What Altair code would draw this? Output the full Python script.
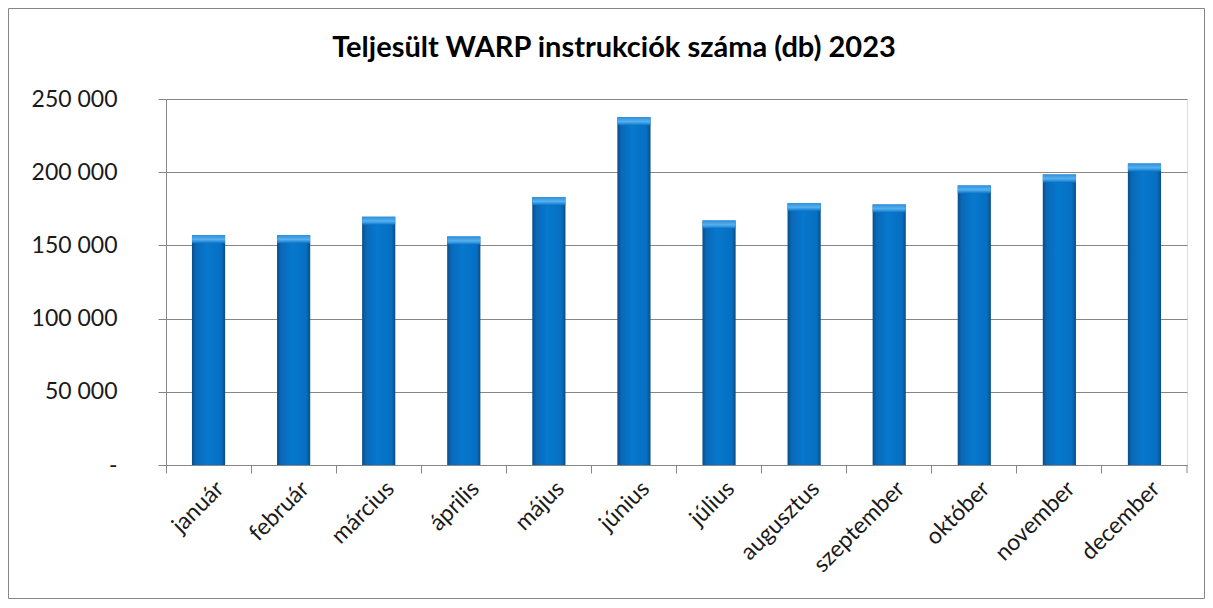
import altair as alt
import pandas as pd

months = ["január", "február", "március", "április", "május", "június",
          "július", "augusztus", "szeptember", "október", "november", "december"]
values = [157000, 157000, 169500, 156000, 183000, 237500,
          167000, 179000, 178000, 191000, 198500, 206000]
y_ticks = [0, 50000, 100000, 150000, 200000, 250000]
title_text = "Teljesült WARP instrukciók száma (db) 2023"

df = pd.DataFrame({"month": months, "value": values})
deco = pd.DataFrame({"t": [title_text]})

W, H = 1021, 366
PAD = {"left": 158, "top": 91, "right": 18, "bottom": 134}
GRAY = "#868686"
TXT = "#1a1a1a"

x_enc = alt.X(
    "month:N", sort=months, title=None,
    scale=alt.Scale(paddingInner=0, paddingOuter=0),
    axis=alt.Axis(bandPosition=0, labelOffset=4, labelAngle=-45,
                  labelAlign="right", labelBaseline="top", labelPadding=4,
                  labelFont="Lato", labelFontSize=23, labelColor=TXT,
                  tickSize=8, tickColor=GRAY, domainColor=GRAY, grid=False),
)
y_enc = alt.Y(
    "value:Q", title=None,
    scale=alt.Scale(domain=[0, 250000], nice=False),
    axis=alt.Axis(values=y_ticks,
                  labelExpr="datum.value == 0 ? '-\u00a0\u00a0\u00a0' : replace(format(datum.value, ','), ',', ' ')",
                  labelFont="Lato", labelFontSize=23, labelColor=TXT, labelPadding=41,
                  tickSize=8, tickColor=GRAY, domainColor=GRAY,
                  grid=True, gridColor=GRAY, gridWidth=1),
)

body_grad = alt.LinearGradient(
    gradient="linear", x1=0, y1=0, x2=1, y2=0,
    stops=[alt.GradientStop(offset=0, color="#0b4d86"),
           alt.GradientStop(offset=0.12, color="#0a68b8"),
           alt.GradientStop(offset=0.45, color="#0678cd"),
           alt.GradientStop(offset=0.88, color="#066fc2"),
           alt.GradientStop(offset=1, color="#0b4d86")])
cap_grad = alt.LinearGradient(
    gradient="linear", x1=0, y1=0, x2=0, y2=1,
    stops=[alt.GradientStop(offset=0, color="#2f8fdb"),
           alt.GradientStop(offset=0.55, color="#55b1ef"),
           alt.GradientStop(offset=1, color="#0a74c8")])

bars = alt.Chart(df).mark_bar(width=alt.RelativeBandSize(0.39), color=body_grad).encode(x=x_enc, y=y_enc)
caps = alt.Chart(df).mark_tick(size=33, thickness=8, yOffset=4, color=cap_grad, opacity=1).encode(x=x_enc, y=y_enc)

end_tick = alt.Chart(deco).mark_rule(color=GRAY).encode(
    x=alt.value(W), y=alt.value(H), y2=alt.value(H + 8))
border = alt.Chart(deco).mark_rect(fill=None, stroke=GRAY, strokeWidth=1).encode(
    x=alt.value(-157.5), x2=alt.value(W + 17.5),
    y=alt.value(-90.5), y2=alt.value(H + PAD["bottom"] - 0.5))
title = alt.Chart(deco).mark_text(font="Lato", fontSize=29, fontWeight="bold", color="#000000",
                                  align="center", baseline="middle").encode(
    x=alt.value(448), y=alt.value(-51), text="t:N")

chart = alt.layer(bars, caps, end_tick, border, title).properties(
    width=W, height=H,
    autosize=alt.AutoSizeParams(type="none"),
    padding=PAD,
).configure_view(stroke=None).configure(background="white")

chart.save("out.html", embed_options={"renderer": "svg", "actions": False})
